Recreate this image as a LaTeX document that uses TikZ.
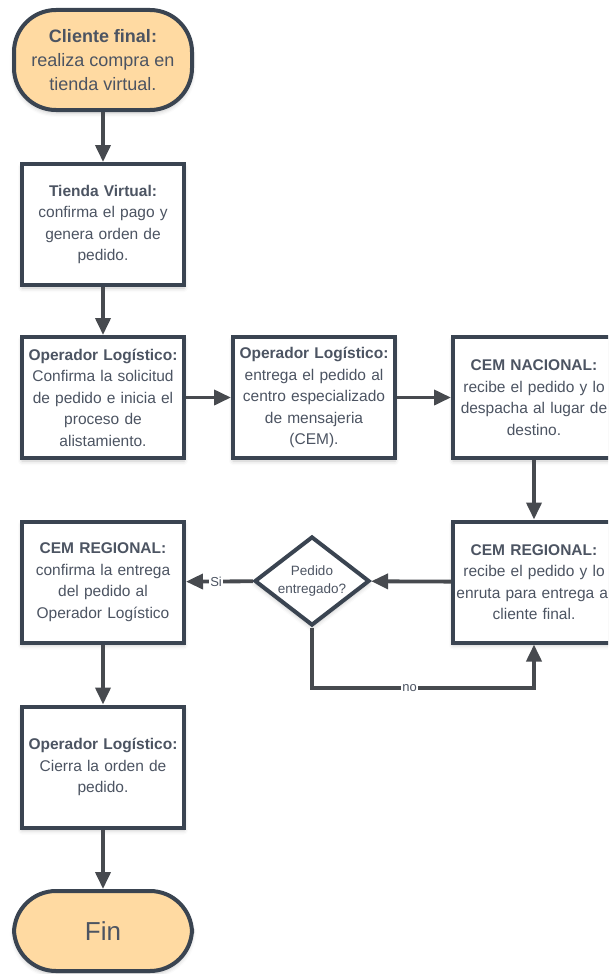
\documentclass[tikz,border=0pt]{standalone}
\usepackage{fontspec}
\setmainfont{Liberation Sans}
\usetikzlibrary{arrows.meta,shapes.geometric,shadows.blur}
\definecolor{borde}{HTML}{3A4451}
\definecolor{relleno}{HTML}{FFDAA2}
\definecolor{texto}{HTML}{4C5462}
\definecolor{linea}{HTML}{474A4F}
\begin{document}
\begin{tikzpicture}[x=1pt,y=-1pt]
      \tikzstyle{sombra}=[blur shadow={shadow xshift=0pt,shadow yshift=-3pt,shadow blur radius=4pt,shadow opacity=22}]
      \tikzstyle{caja}=[draw=borde,line width=4pt,fill=white,minimum width=162pt,minimum height=121pt,text width=156pt,inner sep=0pt,align=center,text=texto,font=\fontsize{15.5}{21.5}\selectfont,sombra]
      \tikzstyle{terminal}=[draw=borde,line width=4pt,fill=relleno,rounded corners=42pt,minimum width=178pt,inner sep=0pt,align=center,text=texto,sombra]
      \tikzstyle{decision}=[diamond,draw=borde,line width=4pt,fill=white,aspect=1.28,minimum width=115pt,minimum height=89pt,inner sep=0pt,align=center,text=texto,font=\fontsize{13.5}{18.5}\selectfont,sombra]
      \tikzstyle{flecha}=[draw=linea,line width=3.8pt,-{Triangle[length=17pt,width=15pt]}]
      \tikzstyle{etiqueta}=[fill=white,inner sep=1pt,text=texto,font=\fontsize{13}{15}\selectfont]
      \path [use as bounding box,clip] (0,0) rectangle (608,974);
      \node [terminal,minimum height=100pt,font=\fontsize{18}{24}\selectfont] (cliente) at (103,60) {\textbf{Cliente final:}\\realiza compra en\\tienda virtual.};
      \node [caja] (tienda) at (103,224.5) {\textbf{Tienda Virtual:}\\confirma el pago y\\genera orden de\\pedido.};
      \node [caja] (alistar) at (103,397.5) {\textbf{Operador Logístico:}\\Confirma la solicitud\\de pedido e inicia el\\proceso de\\alistamiento.};
      \node [caja] (entrega) at (314,397.5) {\textbf{Operador Logístico:}\\entrega el pedido al\\centro especializado\\de mensajeria\\(CEM).};
      \node [caja] (nacional) at (534,397.5) {\textbf{CEM NACIONAL:}\\recibe el pedido y lo\\despacha al lugar de\\destino.};
      \node [caja] (regional) at (534,582) {\textbf{CEM REGIONAL:}\\recibe el pedido y lo\\enruta para entrega al\\cliente final.};
      \node [decision] (pedido) at (312,581) {Pedido\\entregado?};
      \node [caja] (confirma) at (103,582) {\textbf{CEM REGIONAL:}\\confirma la entrega\\del pedido al\\Operador Logístico};
      \node [caja] (cierre) at (103,767) {\textbf{Operador Logístico:}\\Cierra la orden de\\pedido.};
      \node [terminal,minimum height=80pt,font=\fontsize{26}{30}\selectfont] (fin) at (103,931) {Fin};
      \coordinate (giro) at (534,688);
      \draw [flecha] (cliente) -- (tienda);
      \draw [flecha] (tienda) -- (alistar);
      \draw [flecha] (alistar) -- (entrega);
      \draw [flecha] (entrega) -- (nacional);
      \draw [flecha] (nacional) -- (regional);
      \draw [flecha] (regional) -- (pedido);
      \draw [flecha] (pedido) -- node [etiqueta,pos=0.55] {Si} (confirma);
      \draw [flecha] (pedido.south) |- node [etiqueta,pos=0.72] {no} (giro) -- (regional.south);
      \draw [flecha] (confirma) -- (cierre);
      \draw [flecha] (cierre) -- (fin);
    \end{tikzpicture}
\end{document}
